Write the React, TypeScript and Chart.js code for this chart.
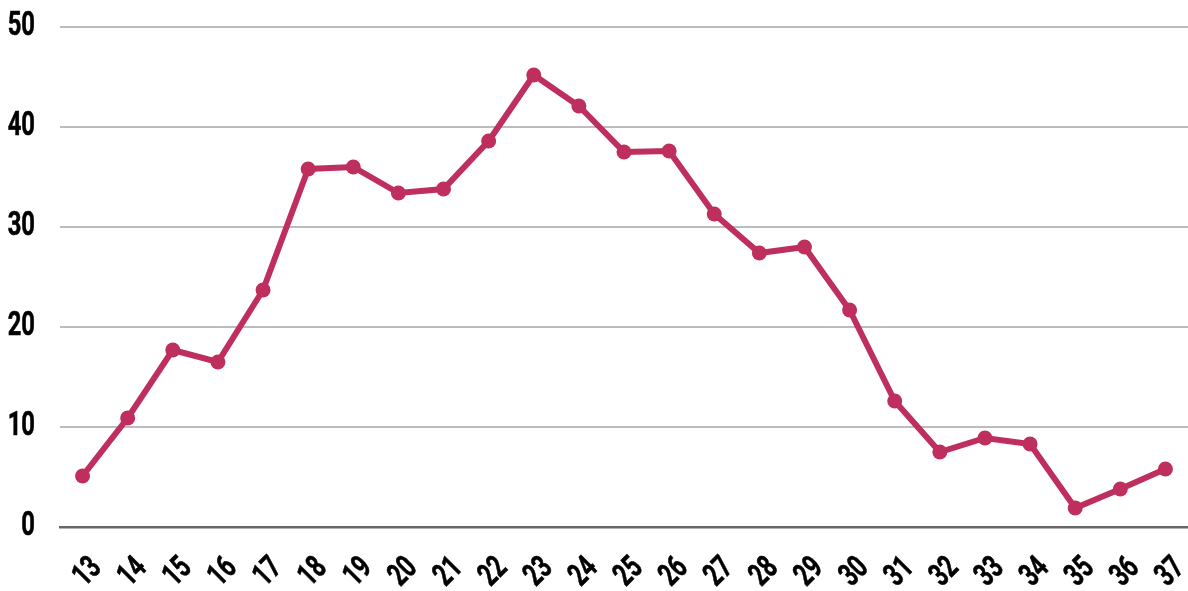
import React, { useEffect, useRef } from "react";
import { Chart, registerables } from "chart.js";

Chart.register(...registerables);

const categories = ["13","14","15","16","17","18","19","20","21","22","23","24","25","26","27","28","29","30","31","32","33","34","35","36","37"];
const values = [5.1, 10.9, 17.7, 16.5, 23.7, 35.8, 36.0, 33.4, 33.8, 38.6, 45.2, 42.1, 37.5, 37.6, 31.3, 27.4, 28.0, 21.7, 12.6, 7.5, 8.9, 8.3, 1.9, 3.8, 5.8];
const yTicks = [0, 10, 20, 30, 40, 50];

const FONT_FAMILY = "Roboto, 'Liberation Sans', sans-serif";
const Y_FONT = 34;
const X_FONT = 32;
const X_SCALE = 0.7;
const COLOR = "#BE2F5E";

const condensedLabels = {
  id: "condensedLabels",
  afterDraw(chart: any) {
    const ctx = chart.ctx as CanvasRenderingContext2D;
    const xs = chart.scales.x;
    const ys = chart.scales.y;
    ctx.save();
    ctx.fillStyle = "#000";
    ctx.strokeStyle = "#000";
    ctx.lineWidth = 0.6;
    ctx.textBaseline = "alphabetic";
    ctx.textAlign = "right";
    // y labels
    ctx.font = `bold ${Y_FONT}px ${FONT_FAMILY}`;
    const yCap = Y_FONT * 0.711;
    yTicks.forEach((v) => {
      const y = ys.getPixelForValue(v);
      ctx.save();
      ctx.translate(35, y - 4.5 + yCap / 2);
      ctx.scale(X_SCALE, 1);
      ctx.fillText(String(v), 0, 0);
      ctx.strokeText(String(v), 0, 0);
      ctx.restore();
    });
    // x labels
    ctx.font = `bold ${X_FONT}px ${FONT_FAMILY}`;
    const xCap = X_FONT * 0.711;
    categories.forEach((c, i) => {
      const x = xs.getPixelForValue(i);
      const top = xs.top;
      ctx.save();
      ctx.translate(x + 12, top + 34);
      ctx.rotate(-Math.PI / 4);
      ctx.scale(X_SCALE, 1);
      ctx.fillText(c, 0, xCap / 2);
      ctx.strokeText(c, 0, xCap / 2);
      ctx.restore();
    });
    ctx.restore();
  },
};

export default function App() {
  const ref = useRef<HTMLCanvasElement | null>(null);
  useEffect(() => {
    if (!ref.current) return;
    const chart = new Chart(ref.current, {
      type: "line",
      data: {
        labels: categories,
        datasets: [
          {
            data: values,
            borderColor: COLOR,
            backgroundColor: COLOR,
            borderWidth: 6,
            pointRadius: 7.5,
            pointHoverRadius: 7.5,
            pointBackgroundColor: COLOR,
            pointBorderWidth: 0,
            tension: 0,
          },
        ],
      },
      options: {
        animation: false,
        responsive: false,
        maintainAspectRatio: false,
        layout: { autoPadding: false, padding: { top: 27, left: 0, right: 0, bottom: 0 } },
        plugins: { legend: { display: false }, tooltip: { enabled: false } },
        scales: {
          x: {
            offset: true,
            grid: { display: false, drawTicks: false },
            border: { display: true, color: "#666", width: 2.5 },
            ticks: { display: false, autoSkip: false },
            afterFit: (scale: any) => {
              scale.height = 64;
              scale.paddingLeft = 0;
              scale.paddingRight = 0;
            },
          },
          y: {
            min: 0,
            max: 50,
            afterBuildTicks: (scale: any) => {
              scale.ticks = yTicks.map((v) => ({ value: v }));
            },
            grid: {
              drawTicks: false,
              color: (ctx: any) => (ctx.tick && ctx.tick.value === 0 ? "rgba(0,0,0,0)" : "#bcbcbc"),
              lineWidth: 2,
            },
            border: { display: false },
            ticks: { display: false },
            afterFit: (scale: any) => {
              scale.width = 60;
              scale.paddingTop = 0;
              scale.paddingBottom = 0;
            },
          },
        },
      },
      plugins: [condensedLabels],
    });
    return () => chart.destroy();
  }, []);
  return (
    <div style={{ position: "absolute", left: 0, top: 0, width: 1188, height: 591, background: "#fff" }}>
      <canvas ref={ref} width={1188} height={591} style={{ width: 1188, height: 591, display: "block" }} />
    </div>
  );
}
